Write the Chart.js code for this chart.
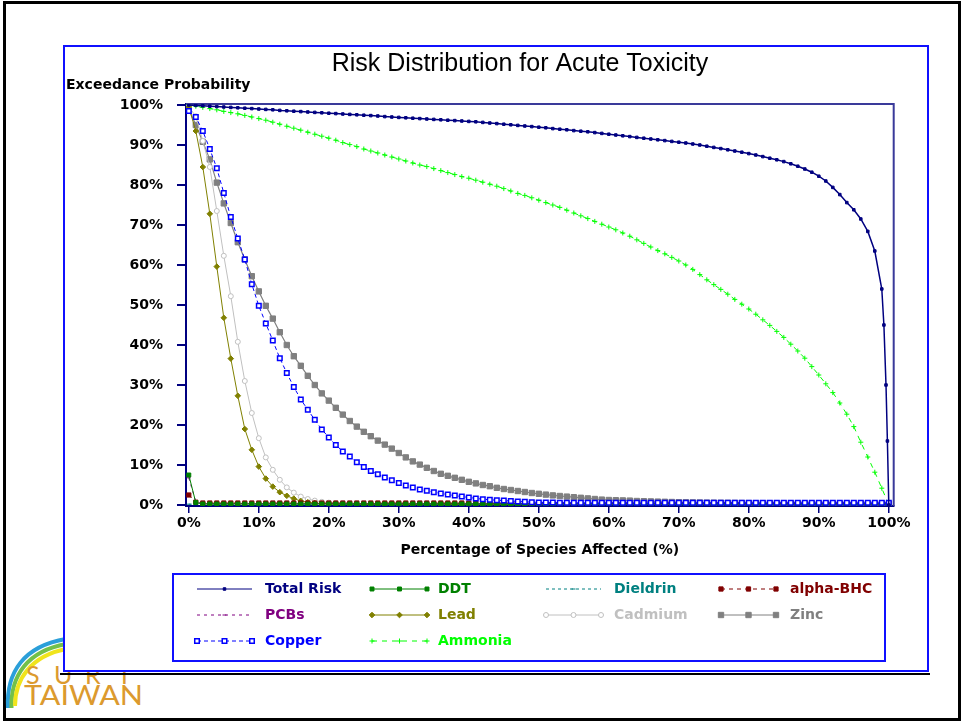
<!DOCTYPE html>
<html><head><meta charset="utf-8">
<script src="https://cdn.jsdelivr.net/npm/chart.js@4.4.1/dist/chart.umd.min.js"></script>
<style>
html,body{margin:0;padding:0;background:#fff;}
body{width:963px;height:722px;position:relative;overflow:hidden;}
#frame{position:absolute;left:3px;top:1px;width:952px;height:714px;border:3px solid #000;z-index:0;}
#logo{position:absolute;left:0;top:630px;width:200px;height:92px;z-index:1;}
#shadow{position:absolute;left:60px;top:673px;width:870px;height:2px;background:#000;z-index:1;}
#panel{position:absolute;left:63px;top:45px;width:862px;height:623px;border:2px solid #1010ff;background:#fff;z-index:2;}
#c{position:absolute;left:0;top:0;z-index:3;}
</style></head>
<body>
<div id="frame"></div>
<svg id="logo" width="200" height="92" viewBox="0 630 200 92">
  <path d="M 8 708 C 6 672, 24 646, 66 639" fill="none" stroke="#2b9fd9" stroke-width="4"/>
  <path d="M 11.5 708 C 10.5 675, 28 651, 66 644" fill="none" stroke="#72c04a" stroke-width="4"/>
  <path d="M 15 706 C 15 679, 31 656, 66 649" fill="none" stroke="#f0e41c" stroke-width="4"/>
  <g fill="#dc9a2e" font-family="Lato, 'Open Sans', sans-serif" font-size="25">
    <text x="26" y="684">S</text><text x="54" y="684">U</text><text x="85" y="684">R</text><text x="117" y="684">T</text>
    <text x="24" y="705" font-size="27" textLength="119" lengthAdjust="spacingAndGlyphs">TAIWAN</text>
  </g>
</svg>
<div id="shadow"></div>
<div id="panel"></div>
<canvas id="c" width="963" height="722"></canvas>
<script>
// ---------------- data ----------------
const pct = [0,1,2,3,4,5,6,7,8,9,
 10,11,12,13,14,15,16,17,18,19,
 20,21,22,23,24,25,26,27,28,29,
 30,31,32,33,34,35,36,37,38,39,
 40,41,42,43,44,45,46,47,48,49,
 50,51,52,53,54,55,56,57,58,59,
 60,61,62,63,64,65,66,67,68,69,
 70,71,72,73,74,75,76,77,78,79,
 80,81,82,83,84,85,86,87,88,89,
 90,91,92,93,94,95,96,97,98,99,
 100];

const totalRiskX = [0,1,2,3,4,5,6,7,8,9,
 10,11,12,13,14,15,16,17,18,19,
 20,21,22,23,24,25,26,27,28,29,
 30,31,32,33,34,35,36,37,38,39,
 40,41,42,43,44,45,46,47,48,49,
 50,51,52,53,54,55,56,57,58,59,
 60,61,62,63,64,65,66,67,68,69,
 70,71,72,73,74,75,76,77,78,79,
 80,81,82,83,84,85,86,87,88,89,
 90,91,92,93,94,95,96,97,98,99,
 99.3,99.6,99.8,100];
const totalRisk = [100,99.9,99.8,99.7,99.6,99.5,99.4,99.3,99.2,99.1,
 99.0,98.9,98.8,98.65,98.55,98.45,98.35,98.25,98.15,98.05,
 97.95,97.85,97.75,97.65,97.55,97.45,97.35,97.25,97.1,97.0,
 96.9,96.8,96.7,96.6,96.5,96.4,96.3,96.2,96.1,96.0,
 95.9,95.8,95.65,95.5,95.35,95.2,95.05,94.9,94.75,94.6,
 94.45,94.3,94.1,93.95,93.8,93.6,93.45,93.3,93.1,92.9,
 92.7,92.5,92.3,92.1,91.9,91.7,91.5,91.3,91.1,90.9,
 90.7,90.5,90.25,90.0,89.7,89.4,89.1,88.8,88.5,88.2,
 87.85,87.5,87.1,86.7,86.3,85.85,85.3,84.7,84.0,83.2,
 82.2,81.0,79.4,77.6,75.6,73.8,71.5,68.4,63.5,54,
 45,30,16,0];

const ddt = [7.5,0.6,0.25,0.25,0.25,0.25,0.25,0.25,0.25,0.25,
 0.25,0.25,0.25,0.25,0.25,0.25,0.25,0.25,0.25,0.25,
 0.25,0.25,0.25,0.25,0.25,0.25,0.25,0.25,0.25,0.25,
 0.25,0.25,0.25,0.25,0.25,0.25,0.25,0.25,0.25,0.25,
 0.25,0.25,0.25,0.25,0.25,0.25,0.25,0.25,0.25,0.25,
 0.25,0.25,0.25,0.25,0.25,0.25,0.25,0.25,0.25,0.25,
 0.25,0.25,0.25,0.25,0.25,0.25,0.25,0.25,0.25,0.25,
 0.25,0.25,0.25,0.25,0.25,0.25,0.25,0.25,0.25,0.25,
 0.25,0.25,0.25,0.25,0.25,0.25,0.25,0.25,0.25,0.25,
 0.25,0.25,0.25,0.25,0.25,0.25,0.25,0.25,0.25,0.25,
 0.25];

const dieldrin = [0.2,0.2,0.2,0.2,0.2,0.2,0.2,0.2,0.2,0.2,
 0.2,0.2,0.2,0.2,0.2,0.2,0.2,0.2,0.2,0.2,
 0.2,0.2,0.2,0.2,0.2,0.2,0.2,0.2,0.2,0.2,
 0.2,0.2,0.2,0.2,0.2,0.2,0.2,0.2,0.2,0.2,
 0.2,0.2,0.2,0.2,0.2,0.2,0.2,0.2,0.2,0.2,
 0.2,0.2,0.2,0.2,0.2,0.2,0.2,0.2,0.2,0.2,
 0.2,0.2,0.2,0.2,0.2,0.2,0.2,0.2,0.2,0.2,
 0.2,0.2,0.2,0.2,0.2,0.2,0.2,0.2,0.2,0.2,
 0.2,0.2,0.2,0.2,0.2,0.2,0.2,0.2,0.2,0.2,
 0.2,0.2,0.2,0.2,0.2,0.2,0.2,0.2,0.2,0.2,
 0.2];

const alphaBHC = [2.5,0.7,0.5,0.5,0.5,0.5,0.5,0.5,0.5,0.5,
 0.5,0.5,0.5,0.5,0.5,0.5,0.5,0.5,0.5,0.5,
 0.5,0.5,0.5,0.5,0.5,0.5,0.5,0.5,0.5,0.5,
 0.5,0.5,0.5,0.5,0.5,0.5,0.5,0.5,0.5,0.5,
 0.5,0.5,0.5,0.5,0.5,0.5,0.5,0.5,0.5,0.5,
 0.5,0.5,0.5,0.5,0.5,0.5,0.5,0.5,0.5,0.5,
 0.5,0.5,0.5,0.5,0.5,0.5,0.5,0.5,0.5,0.5,
 0.5,0.5,0.5,0.5,0.5,0.5,0.5,0.5,0.5,0.5,
 0.5,0.5,0.5,0.5,0.5,0.5,0.5,0.5,0.5,0.5,
 0.5,0.5,0.5,0.5,0.5,0.5,0.5,0.5,0.5,0.5,
 0.5];

const pcbs = [6.8,0.8,0.35,0.35,0.35,0.35,0.35,0.35,0.35,0.35,
 0.35,0.35,0.35,0.35,0.35,0.35,0.35,0.35,0.35,0.35,
 0.35,0.35,0.35,0.35,0.35,0.35,0.35,0.35,0.35,0.35,
 0.35,0.35,0.35,0.35,0.35,0.35,0.35,0.35,0.35,0.35,
 0.35,0.35,0.35,0.35,0.35,0.35,0.35,0.35,0.35,0.35,
 0.35,0.35,0.35,0.35,0.35,0.35,0.35,0.35,0.35,0.35,
 0.35,0.35,0.35,0.35,0.35,0.35,0.35,0.35,0.35,0.35,
 0.35,0.35,0.35,0.35,0.35,0.35,0.35,0.35,0.35,0.35,
 0.35,0.35,0.35,0.35,0.35,0.35,0.35,0.35,0.35,0.35,
 0.35,0.35,0.35,0.35,0.35,0.35,0.35,0.35,0.35,0.35,
 0.35];

const lead = [99.5,93.5,84.5,72.8,59.6,46.8,36.6,27.3,19.0,13.8,
 9.6,6.6,4.6,3.2,2.3,1.6,1.0,0.7,0.5,0.35,
 0.25,0.2,0.15,0.15,0.15,0.15,0.15,0.15,0.15,0.15,
 0.15,0.15,0.15,0.15,0.15,0.15,0.15,0.15,0.15,0.15,
 0.15,0.15,0.15,0.15,0.15,0.15,0.15,0.15,0.15,0.15,
 0.15,0.15,0.15,0.15,0.15,0.15,0.15,0.15,0.15,0.15,
 0.15,0.15,0.15,0.15,0.15,0.15,0.15,0.15,0.15,0.15,
 0.15,0.15,0.15,0.15,0.15,0.15,0.15,0.15,0.15,0.15,
 0.15,0.15,0.15,0.15,0.15,0.15,0.15,0.15,0.15,0.15,
 0.15,0.15,0.15,0.15,0.15,0.15,0.15,0.15,0.15,0.15,
 0.15];

const cadmium = [99.5,97.2,91.0,84.5,73.5,62.3,52.2,40.8,31.0,23.0,
 16.7,11.9,8.8,6.3,4.4,3.1,2.1,1.5,1.1,0.8,
 0.6,0.45,0.35,0.3,0.3,0.3,0.3,0.3,0.3,0.3,
 0.3,0.3,0.3,0.3,0.3,0.3,0.3,0.3,0.3,0.3,
 0.3,0.3,0.3,0.3,0.3,0.3,0.3,0.3,0.3,0.3,
 0.3,0.3,0.3,0.3,0.3,0.3,0.3,0.3,0.3,0.3,
 0.3,0.3,0.3,0.3,0.3,0.3,0.3,0.3,0.3,0.3,
 0.3,0.3,0.3,0.3,0.3,0.3,0.3,0.3,0.3,0.3,
 0.3,0.3,0.3,0.3,0.3,0.3,0.3,0.3,0.3,0.3,
 0.3,0.3,0.3,0.3,0.3,0.3,0.3,0.3,0.3,0.3,
 0.3];

const zinc = [99,95.0,90.8,86.4,80.6,75.4,70.5,65.7,61.4,57.2,
 53.4,49.8,46.6,43.2,40.0,37.2,34.8,32.3,30.0,27.9,
 26.1,24.3,22.6,21.0,19.6,18.3,17.2,16.1,15.1,14.1,
 13.0,11.9,10.9,10.1,9.3,8.5,7.8,7.3,6.8,6.3,
 5.8,5.4,5.0,4.7,4.3,4.0,3.75,3.5,3.25,3.0,
 2.8,2.6,2.4,2.25,2.1,1.95,1.8,1.65,1.5,1.35,
 1.25,1.2,1.15,1.1,1.0,0.95,0.9,0.85,0.8,0.75,
 0.7,0.68,0.65,0.62,0.6,0.58,0.56,0.54,0.52,0.5,
 0.48,0.46,0.44,0.42,0.4,0.38,0.36,0.35,0.34,0.33,
 0.32,0.31,0.3,0.3,0.3,0.3,0.3,0.3,0.3,0.3,
 0.3];

const copper = [98.5,97.0,93.5,89.0,84.2,78.0,72.0,66.6,61.4,55.2,
 49.8,45.4,41.1,36.7,33.0,29.5,26.4,23.8,21.3,18.9,
 16.9,15.0,13.4,12.1,10.7,9.5,8.5,7.7,6.9,6.2,
 5.5,4.9,4.35,3.9,3.55,3.2,2.9,2.6,2.35,2.1,
 1.9,1.65,1.45,1.3,1.2,1.1,1.0,0.9,0.8,0.7,
 0.65,0.62,0.6,0.58,0.56,0.55,0.55,0.55,0.55,0.55,
 0.55,0.55,0.55,0.55,0.55,0.55,0.55,0.55,0.55,0.55,
 0.55,0.55,0.55,0.55,0.55,0.55,0.55,0.55,0.55,0.55,
 0.55,0.55,0.55,0.55,0.55,0.55,0.55,0.55,0.55,0.55,
 0.55,0.55,0.55,0.55,0.55,0.55,0.55,0.55,0.55,0.55,
 0.55];

const ammonia = [100,99.7,99.4,99.1,98.8,98.4,98.1,97.8,97.4,97.0,
 96.6,96.2,95.7,95.2,94.7,94.2,93.7,93.2,92.7,92.2,
 91.7,91.2,90.6,90.1,89.6,89.0,88.5,88.0,87.5,87.0,
 86.5,86.0,85.5,85.0,84.6,84.1,83.6,83.1,82.6,82.1,
 81.7,81.2,80.7,80.2,79.7,79.1,78.5,77.9,77.4,76.8,
 76.2,75.6,75.0,74.4,73.7,73.0,72.3,71.6,70.9,70.2,
 69.5,68.8,68.0,67.2,66.3,65.4,64.5,63.6,62.8,61.9,
 61.0,60.0,58.9,57.6,56.3,55.1,53.9,52.7,51.4,50.2,
 49.0,47.7,46.3,44.9,43.4,41.9,40.2,38.5,36.7,34.6,
 32.5,30.3,28.1,25.5,22.7,19.6,15.7,12.0,8.2,4.2,
 0];

const seriesNames = ['Total Risk','DDT','Dieldrin','alpha-BHC','PCBs','Lead','Cadmium','Zinc','Copper','Ammonia'];
const xTickValues = [0,10,20,30,40,50,60,70,80,90,100];
const yTickValues = [0,10,20,30,40,50,60,70,80,90,100];
const chartTitle = 'Risk Distribution for Acute Toxicity';
const yTitle = 'Exceedance Probability';
const xTitle = 'Percentage of Species Affected (%)';

// ---------------- build ----------------
function pts(xs, ys){ return ys.map((y,i)=>({x:xs[i], y:y})); }
const seriesData = [
  pts(totalRiskX,totalRisk), pts(pct,ddt), pts(pct,dieldrin), pts(pct,alphaBHC), pts(pct,pcbs),
  pts(pct,lead), pts(pct,cadmium), pts(pct,zinc), pts(pct,copper), pts(pct,ammonia)
];
const styles = [
  {c:'#000080', w:1.5, dash:[],    ps:'rect',    r:1.8, bg:'#000080', bw:1,   o:-2, lm:[0.5]},
  {c:'#008000', w:1,   dash:[],    ps:'rect',    r:2.8, bg:'#008000', bw:1,   o:0,  lm:[0,0.5,1]},
  {c:'#008080', w:1,   dash:[3,3], ps:'line',    r:2,   bg:'#008080', bw:1,   o:0,  lm:[0.5]},
  {c:'#800000', w:1,   dash:[4,4], ps:'rect',    r:3,   bg:'#800000', bw:1,   o:0,  lm:[0,0.5,1]},
  {c:'#800080', w:1,   dash:[3,4], ps:'line',    r:2,   bg:'#800080', bw:1,   o:0,  lm:[0.5]},
  {c:'#808000', w:1,   dash:[],    ps:'rectRot', r:2.8, bg:'#808000', bw:1,   o:0,  lm:[0,0.5,1]},
  {c:'#c0c0c0', w:1,   dash:[],    ps:'circle',  r:2.5, bg:'#ffffff', bw:1,   o:0,  lm:[0,0.5,1]},
  {c:'#808080', w:1.2, dash:[],    ps:'rect',    r:3.8, bg:'#808080', bw:1,   o:0,  lm:[0,0.5,1]},
  {c:'#0000ff', w:1,   dash:[4,3], ps:'rect',    r:3.2, bg:'#ffffff', bw:1.5, o:-1, lm:[0,0.5,1]},
  {c:'#00ff00', w:1,   dash:[5,5], ps:'cross',   r:2.5, bg:'#00ff00', bw:1,   o:0,  lm:[0,0.5,1]}
];
const datasets = seriesNames.map((n,i)=>({
  label:n, data:seriesData[i], borderColor:styles[i].c, backgroundColor:styles[i].bg,
  borderWidth:styles[i].w, borderDash:styles[i].dash, pointStyle:styles[i].ps,
  pointRadius:styles[i].r, pointBackgroundColor:styles[i].bg, pointBorderColor:styles[i].c,
  pointBorderWidth:styles[i].bw, tension:0, fill:false, showLine:true, order:styles[i].o
}));

const BOLD = {family:'DejaVu Sans', weight:'bold', size:14};

const decor = {
  id:'decor',
  beforeDatasetsDraw(chart){
    const {ctx, chartArea:a} = chart;
    ctx.save();
    ctx.strokeStyle = '#3a3a9a'; ctx.lineWidth = 2;
    ctx.beginPath(); ctx.moveTo(a.left, a.top); ctx.lineTo(a.right, a.top); ctx.lineTo(a.right, a.bottom); ctx.stroke();
    ctx.restore();
  },
  afterDraw(chart){
    const ctx = chart.ctx;
    ctx.save();
    ctx.fillStyle = '#000';
    ctx.textBaseline = 'middle';
    ctx.textAlign = 'center';
    ctx.font = '25px "Liberation Sans", Arial, sans-serif';
    ctx.fillText(chartTitle, 520, 64);
    ctx.textAlign = 'left';
    ctx.font = 'bold 14px "DejaVu Sans"';
    ctx.fillText(yTitle, 66, 85);
    // legend box
    ctx.strokeStyle = '#1010ff'; ctx.lineWidth = 2;
    ctx.strokeRect(173, 574, 712, 87);
    const lineX = [197, 372, 546, 721], textX = [265, 438, 614, 790], rowY = [589, 615, 641];
    const drawPoint = (Chart.helpers && Chart.helpers.drawPoint) ? Chart.helpers.drawPoint : null;
    chart.data.datasets.forEach((ds, i) => {
      const col = i % 4, row = Math.floor(i / 4);
      const x0 = lineX[col], y = rowY[row], x1 = x0 + 55;
      ctx.save();
      ctx.strokeStyle = ds.borderColor; ctx.lineWidth = 1;
      ctx.setLineDash(ds.borderDash || []);
      ctx.beginPath(); ctx.moveTo(x0, y); ctx.lineTo(x1, y); ctx.stroke();
      ctx.setLineDash([]);
      if (drawPoint) {
        styles[i].lm.forEach(f => {
          const px = x0 + f * (x1 - x0);
          ctx.fillStyle = ds.pointBackgroundColor; ctx.strokeStyle = ds.pointBorderColor; ctx.lineWidth = ds.pointBorderWidth;
          drawPoint(ctx, {pointStyle: ds.pointStyle, radius: ds.pointRadius, rotation: 0, borderWidth: ds.pointBorderWidth}, px, y);
        });
      }
      ctx.restore();
      ctx.fillStyle = ds.borderColor;
      ctx.textAlign = 'left'; ctx.textBaseline = 'middle';
      ctx.font = 'bold 14px "DejaVu Sans"';
      ctx.fillText(ds.label, textX[col], y);
    });
    ctx.restore();
  }
};

new Chart(document.getElementById('c'), {
  type: 'line',
  data: {datasets},
  options: {
    responsive: false, animation: false, devicePixelRatio: 1,
    layout: {padding: {left: 66, top: 104, right: 69.3, bottom: 163.6}},
    plugins: {legend: {display: false}, title: {display: false}, tooltip: {enabled: false}},
    scales: {
      x: {
        type: 'linear', min: -0.4, max: 100.7,
        afterBuildTicks: s => { s.ticks = xTickValues.map(v => ({value: v})); },
        afterFit: s => { s.height = 52.4; },
        grid: {display: true, drawOnChartArea: false, drawTicks: true, tickLength: 7, color: '#000080', lineWidth: 1.5},
        border: {display: true, color: '#000080', width: 2},
        ticks: {padding: 2, color: '#000', font: BOLD, maxRotation: 0, autoSkip: false, callback: v => v + '%'},
        title: {display: true, text: xTitle, color: '#000', font: BOLD, padding: 0}
      },
      y: {
        type: 'linear', min: -0.25, max: 100.25,
        afterBuildTicks: s => { s.ticks = yTickValues.map(v => ({value: v})); },
        afterFit: s => { s.width = 120; },
        grid: {display: true, drawOnChartArea: false, drawTicks: true, tickLength: 9, color: '#000080', lineWidth: 2},
        border: {display: true, color: '#000080', width: 2},
        ticks: {padding: 14, color: '#000', font: BOLD, autoSkip: false, callback: v => v + '%'}
      }
    }
  },
  plugins: [decor]
});
</script>
</body></html>
